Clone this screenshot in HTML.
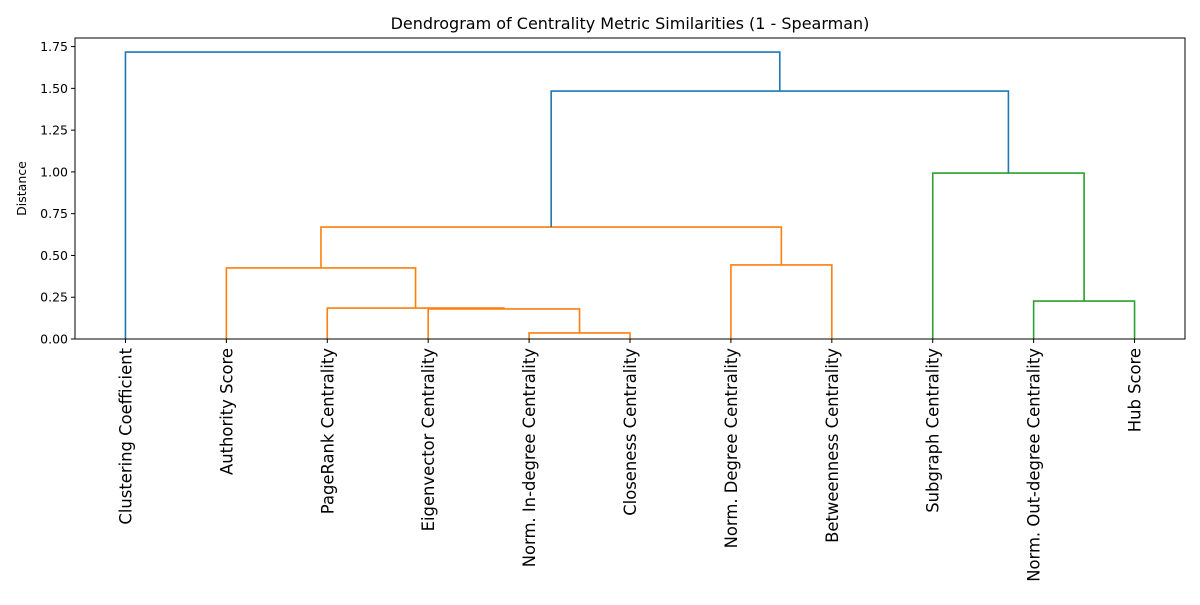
<!DOCTYPE html>
<html><head><meta charset="utf-8"><style>
body{margin:0;background:#fff;font-family:"Liberation Sans","DejaVu Sans",sans-serif;}
svg text{font-family:"DejaVu Sans","Liberation Sans",sans-serif;}
</style></head><body>
<svg id="chart" width="1200" height="600" xmlns="http://www.w3.org/2000/svg"></svg>
<script>
const leafLabels=["Clustering Coefficient","Authority Score","PageRank Centrality","Eigenvector Centrality","Norm. In-degree Centrality","Closeness Centrality","Norm. Degree Centrality","Betweenness Centrality","Subgraph Centrality","Norm. Out-degree Centrality","Hub Score"];
const mergeLeft=[4,3,2,1,6,14,9,8,16,0];
const mergeRight=[5,11,12,13,7,15,10,17,18,19];
const mergeHeight=[0.036,0.18,0.185,0.425,0.443,0.67,0.227,0.993,1.484,1.717];
const mergeColor=["#ff7f0e","#ff7f0e","#ff7f0e","#ff7f0e","#ff7f0e","#ff7f0e","#2ca02c","#2ca02c","#1f77b4","#1f77b4"];
const yTicks=[0,0.25,0.5,0.75,1.0,1.25,1.5,1.75];

const NS="http://www.w3.org/2000/svg";
const svg=document.getElementById('chart');
const L=75,R=1185,T=38,B=339,yMax=1.8014;
const xs=i=>L+(5+10*i)*(R-L)/(10*leafLabels.length);
const ys=v=>B-v*(B-T)/yMax;
function el(tag,attrs,parent){const e=document.createElementNS(NS,tag);for(const k in attrs)e.setAttribute(k,attrs[k]);(parent||svg).appendChild(e);return e;}

const t=el('text',{x:630,y:29,'font-size':16,'text-anchor':'middle',fill:'#000'});


t.textContent='Dendrogram of Centrality Metric Similarities (1 - Spearman)';

const pos=[],hgt=[];
leafLabels.forEach((l,i)=>{pos[i]=xs(i);hgt[i]=0;});
const n=leafLabels.length;
for(let m=0;m<mergeHeight.length;m++){
  const a=mergeLeft[m],b=mergeRight[m],h=mergeHeight[m];
  const xa=pos[a],xb=pos[b];
  const p=el('polyline',{points:`${xa},${ys(hgt[a])} ${xa},${ys(h)} ${xb},${ys(h)} ${xb},${ys(hgt[b])}`,fill:'none',stroke:mergeColor[m],'stroke-width':1.6});
  
  
  pos[n+m]=(xa+xb)/2;hgt[n+m]=h;
}

const frame=el('rect',{x:L,y:T,width:R-L,height:B-T,fill:'none',stroke:'#000','stroke-width':1});



yTicks.forEach(v=>{
  const y=ys(v);
  const tk=el('line',{x1:L-4,x2:L,y1:y,y2:y,stroke:'#000','stroke-width':1});
  
  
  const tl=el('text',{x:L-7,y:y+4.5,'font-size':12.5,'text-anchor':'end',fill:'#000'});
  
  
  tl.textContent=v.toFixed(2);
});
const yt=el('text',{x:0,y:0,'font-size':12.5,'text-anchor':'middle',fill:'#000',transform:`translate(26,${(T+B)/2}) rotate(-90)`});


yt.textContent='Distance';

leafLabels.forEach((lab,i)=>{
  const x=xs(i);
  const tk=el('line',{x1:x,x2:x,y1:B,y2:B+4,stroke:'#000','stroke-width':1});
  
  
  const tl=el('text',{x:0,y:0,'font-size':16.4,'text-anchor':'end',fill:'#000',transform:`translate(${x+6},${B+9}) rotate(-90)`});
  
  
  tl.textContent=lab;
});
</script>
</body></html>
